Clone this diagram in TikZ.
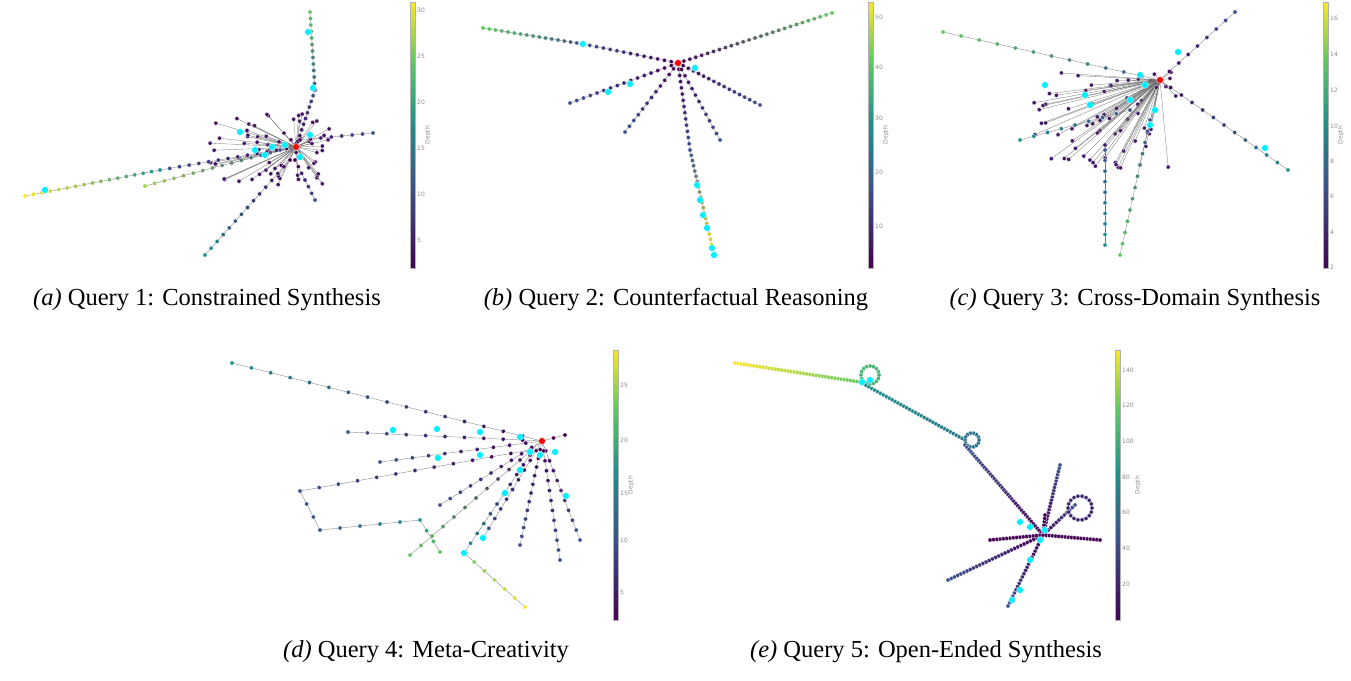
\documentclass[tikz,border=0pt]{standalone}
\usepackage{fontspec}
\setmainfont{Liberation Serif}
\newfontfamily\lab{DejaVu Sans}
\definecolor{v0}{RGB}{68,1,84}
\definecolor{v1}{RGB}{59,82,139}
\definecolor{v2}{RGB}{33,145,140}
\definecolor{v3}{RGB}{94,201,98}
\definecolor{v4}{RGB}{253,231,37}
\definecolor{cy}{RGB}{0,240,255}
\tikzset{edge/.style={draw=black!55,line width=0.3pt},
 dot/.style={draw=white,line width=0.25pt},
 capt/.style={font=\fontsize{24.5}{26}\selectfont,anchor=center},
 tick/.style={font=\lab\fontsize{6}{7}\selectfont,text=black!45,anchor=west,inner sep=1pt}}
\newcommand\dotchain[7]{%
 \draw[edge] (#1,-#2) -- (#3,-#4);
 \foreach \i in {0,...,#5}{\pgfmathsetmacro\tq{\i/#5}\pgfmathtruncatemacro\pp{100*\tq}
  \fill[dot,fill=#7!\pp!#6] ({#1+(#3-#1)*\tq},{-#2-(#4-#2)*\tq}) circle (2.1);}}
\newcommand\cyd[2]{\fill[dot,fill=cy] (#1,-#2) circle (3.4);}
\newcommand\rootdot[2]{\fill[dot,fill=red] (#1,-#2) circle (3.4);}
\newcommand\dotloop[5]{% cx cy r n col
 \foreach \i in {1,...,#4}{\fill[dot,fill=#5] ({#1+#3*cos(360*\i/#4)},{-#2+#3*sin(360*\i/#4)}) circle (2.1);}}
\newcommand\cluster[8]{% rootx rooty cx cy spread n col seed
 \pgfmathsetseed{#8}
 \foreach \i in {1,...,#6}{\pgfmathsetmacro\xx{#3+#5*rand}\pgfmathsetmacro\yy{#4+0.6*#5*rand}
  \draw[edge] (#1,-#2) -- (\xx,-\yy); \fill[dot,fill=#7] (\xx,-\yy) circle (2.1);}}
\newcommand\cbar[4]{% x ytop ybot label
 \shade[bottom color=v0,top color=v1] (#1,-#3) rectangle (#1+5,{-#3+(#3-#2)*0.3});
 \shade[bottom color=v1,top color=v2] (#1,{-#3+(#3-#2)*0.3}) rectangle (#1+5,{-#3+(#3-#2)*0.55});
 \shade[bottom color=v2,top color=v3] (#1,{-#3+(#3-#2)*0.55}) rectangle (#1+5,{-#3+(#3-#2)*0.78});
 \shade[bottom color=v3,top color=v4] (#1,{-#3+(#3-#2)*0.78}) rectangle (#1+5,-#2);
 \draw[black!30,line width=0.3pt] (#1,-#3) rectangle (#1+5,-#2);
 \node[font=\lab\fontsize{6}{7}\selectfont,text=black!45,rotate=90] at (#1+#4,{-(#2+#3)/2}) {Depth};}
\begin{document}
\begin{tikzpicture}[x=1pt,y=1pt]
\useasboundingbox (0,0) rectangle (1351,-680);
\fill[white] (0,0) rectangle (1351,-680);
% ---------- (a)
\cluster{296}{147}{270}{150}{60}{70}{v0!80!v1}{3}
\dotchain{296}{147}{315}{90}{10}{v0}{v1}
\dotchain{315}{90}{310}{12}{12}{v1}{v3}
\dotchain{296}{147}{160}{170}{14}{v0}{v1}
\dotchain{160}{170}{25}{196}{16}{v2}{v4}
\dotchain{280}{150}{145}{186}{14}{v1}{v3!60!v4}
\dotchain{290}{160}{205}{255}{14}{v0}{v2}
\dotchain{295}{160}{315}{200}{6}{v0}{v1}
\dotchain{300}{140}{373}{133}{7}{v0}{v1}
\cyd{308}{32}\cyd{313}{88}\cyd{45}{190}\cyd{240}{132}\cyd{272}{147}\cyd{285}{145}\cyd{300}{157}\cyd{310}{135}\cyd{255}{150}\cyd{265}{155}
\rootdot{296}{147}
\cbar{410}{2}{268}{18}
\foreach \v/\y in {30/10,25/56,20/102,15/148,10/194,5/240}{\node[tick] at (416,-\y) {\v};}
\node[capt] at (207,-300) {\textit{(a)} Query 1: Constrained Synthesis};
% ---------- (b)
\dotchain{678}{63}{583}{44}{14}{v0}{v1}
\dotchain{583}{44}{483}{28}{16}{v1}{v3}
\dotchain{678}{63}{832}{13}{26}{v0}{v3}
\dotchain{678}{63}{570}{103}{16}{v0}{v1}
\dotchain{678}{63}{625}{132}{12}{v0}{v1}
\dotchain{678}{63}{690}{150}{14}{v0}{v1}
\dotchain{690}{150}{714}{255}{20}{v1}{v4}
\dotchain{678}{63}{760}{105}{16}{v0}{v1}
\dotchain{678}{63}{720}{140}{12}{v0}{v1}
\cyd{583}{44}\cyd{608}{92}\cyd{630}{84}\cyd{695}{68}\cyd{697}{185}\cyd{700}{200}\cyd{703}{215}\cyd{707}{228}\cyd{712}{248}\cyd{714}{255}
\rootdot{678}{63}
\cbar{868}{2}{268}{18}
\foreach \v/\y in {50/17,40/67,30/118,20/172,10/226}{\node[tick] at (874,-\y) {\v};}
\node[capt] at (676,-300) {\textit{(b)} Query 2: Counterfactual Reasoning};
% ---------- (c)
\cluster{1160}{80}{1110}{120}{80}{70}{v0!70!v1}{7}
\dotchain{1160}{80}{943}{32}{12}{v1}{v3}
\dotchain{1160}{80}{1235}{12}{8}{v0}{v1}
\dotchain{1160}{80}{1288}{170}{12}{v0}{v2}
\dotchain{1150}{120}{1120}{255}{12}{v1}{v3}
\dotchain{1105}{150}{1105}{245}{9}{v1}{v2}
\dotchain{1130}{110}{1020}{140}{8}{v1}{v2}
\cyd{1140}{75}\cyd{1145}{85}\cyd{1090}{105}\cyd{1085}{95}\cyd{1130}{100}\cyd{1155}{110}\cyd{1265}{148}\cyd{1045}{85}\cyd{1178}{52}\cyd{1150}{125}
\rootdot{1160}{80}
\cbar{1323}{2}{268}{18}
\foreach \v/\y in {16/18,14/54,12/90,10/126,8/161,6/196,4/232,2/267}{\node[tick] at (1329,-\y) {\v};}
\node[capt] at (1135,-300) {\textit{(c)} Query 3: Cross-Domain Synthesis};
% ---------- (d)
\dotchain{542}{441}{232}{363}{16}{v0}{v2}
\dotchain{542}{441}{348}{432}{10}{v0}{v1}
\dotchain{542}{441}{380}{462}{10}{v0}{v1}
\dotchain{530}{450}{300}{491}{12}{v0}{v1}
\dotchain{300}{491}{320}{530}{3}{v1}{v1}
\dotchain{320}{530}{420}{520}{5}{v1}{v2}
\dotchain{420}{520}{440}{552}{3}{v2}{v3}
\dotchain{530}{455}{464}{553}{10}{v0}{v2}
\dotchain{464}{553}{525}{607}{6}{v3}{v4}
\dotchain{542}{441}{580}{540}{10}{v0}{v1}
\dotchain{542}{441}{560}{560}{12}{v0}{v1}
\dotchain{542}{441}{520}{545}{12}{v0}{v1}
\dotchain{542}{441}{483}{538}{10}{v0}{v1}
\dotchain{542}{441}{440}{505}{10}{v0}{v1}
\dotchain{542}{441}{410}{555}{12}{v0}{v3}
\dotchain{542}{441}{565}{435}{2}{v0}{v0}
\cyd{393}{430}\cyd{437}{429}\cyd{480}{432}\cyd{520}{437}\cyd{438}{458}\cyd{480}{455}\cyd{530}{452}\cyd{540}{455}\cyd{555}{452}\cyd{505}{493}\cyd{483}{538}\cyd{464}{553}\cyd{566}{496}\cyd{520}{470}
\rootdot{542}{441}
\cbar{613}{350}{620}{18}
\foreach \v/\y in {25/385,20/440,15/493,10/540,5/592}{\node[tick] at (619,-\y) {\v};}
\node[capt] at (426,-652) {\textit{(d)} Query 4: Meta-Creativity};
% ---------- (e)
\dotchain{735}{363}{860}{382}{40}{v4}{v3}
\dotloop{870}{375}{9}{16}{v3!60!v2}
\dotchain{860}{382}{965}{440}{36}{v2}{v2!60!v1}
\dotloop{972}{440}{7}{14}{v2!50!v1}
\dotchain{965}{445}{1043}{535}{40}{v1}{v0}
\dotchain{1043}{535}{1075}{505}{12}{v0}{v1}
\dotloop{1080}{508}{12}{18}{v1!50!v0}
\dotchain{1043}{535}{948}{580}{30}{v0}{v1}
\dotchain{1043}{535}{1008}{606}{22}{v0}{v1}
\dotchain{1043}{535}{1060}{465}{22}{v0}{v1}
\dotchain{1043}{535}{990}{540}{16}{v0}{v0}
\dotchain{1043}{535}{1100}{540}{18}{v0}{v0}
\dotchain{1043}{535}{1045}{515}{6}{v0}{v0}
\cyd{1020}{522}\cyd{1030}{527}\cyd{1045}{530}\cyd{1040}{540}\cyd{1030}{560}\cyd{1020}{590}\cyd{1012}{600}\cyd{862}{382}\cyd{870}{380}
\cbar{1115}{350}{620}{23}
\foreach \v/\y in {140/370,120/405,100/441,80/477,60/512,40/548,20/584}{\node[tick] at (1121,-\y) {\v};}
\node[capt] at (926,-652) {\textit{(e)} Query 5: Open-Ended Synthesis};
\end{tikzpicture}
\end{document}
